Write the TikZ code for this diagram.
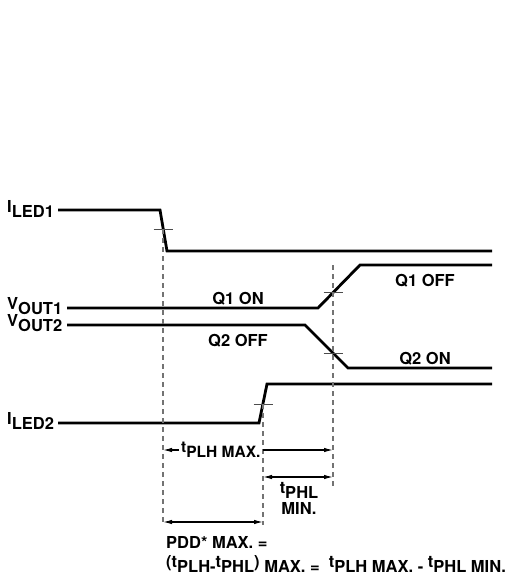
\documentclass[tikz,border=0pt]{standalone}
\usepackage{fontspec}
\setmainfont{TeX Gyre Heros}
\usetikzlibrary{arrows.meta}

\newcommand{\sig}[2]{#1\raisebox{-5pt}{#2}}

\tikzset{
  wave/.style={line width=2.8pt},
  guide/.style={black!55, line width=1.1pt, dash pattern=on 5pt off 4pt},
  marker/.style={black!70, line width=0.9pt},
  dim/.style={line width=1.2pt, -{Latex[length=9pt,width=4.5pt]}},
  dimboth/.style={line width=1.2pt, {Latex[length=9pt,width=4.5pt]}-{Latex[length=9pt,width=4.5pt]}},
  txt/.style={font=\fontsize{16.5}{19}\selectfont\bfseries, inner sep=0pt},
}

\begin{document}
\begin{tikzpicture}[x=1pt,y=-1pt]
    \useasboundingbox (0,0) rectangle (512,587);

    % signal names
    \node[txt,anchor=base west] (iled1) at (7,212) {\sig{I}{LED1}};
    \node[txt,anchor=base west] (vout1) at (7,309) {\sig{V}{OUT1}};
    \node[txt,anchor=base west] (vout2) at (7,326) {\sig{V}{OUT2}};
    \node[txt,anchor=base west] (iled2) at (7,424) {\sig{I}{LED2}};

    % waveforms
    \draw[wave] (58,210) -- (160,210) -- (167,251) -- (492,251);
    \draw[wave] (67,308) -- (318,308) -- (360,265) -- (492,265);
    \draw[wave] (67,325) -- (305,325) -- (348,368) -- (492,368);
    \draw[wave] (58,423) -- (259,423) -- (267,384) -- (492,384);

    \node[txt,anchor=base] (q1on)  at (238,304) {Q1 ON};
    \node[txt,anchor=base] (q2off) at (238,346) {Q2 OFF};
    \node[txt,anchor=base] (q1off) at (425,286) {Q1 OFF};
    \node[txt,anchor=base] (q2on)  at (425,364) {Q2 ON};

    % 50% points
    \coordinate (m1) at (163,229);
    \coordinate (m2) at (263,404);
    \coordinate (m3) at (333,292);
    \coordinate (m4) at (333,353);
    \foreach \m in {m1,m2,m3,m4}
        \draw[marker] ([xshift=-9.5pt]\m) -- ([xshift=9.5pt]\m);

    \draw[guide] (m1) -- (163,525);
    \draw[guide] (m2) -- (263,525);
    \draw[guide] (333,265) -- (333,486);

    % delays
    \node[txt,anchor=west,font=\fontsize{15.5}{18}\selectfont\bfseries] (tplh) at (181,450) {\sig{t}{PLH MAX.}};
    \draw[dim] ([xshift=-2pt]tplh.west) -- (m1 |- tplh.west);
    \draw[dim] (m2 |- tplh.west) -- (m3 |- tplh.west);
    \draw[dimboth] (263,477) -- (333,477);
    \node[txt,align=center,anchor=north] (tphl) at (299,482) {\sig{t}{PHL}\\[2pt]MIN.};
    \draw[dimboth] (163,522) -- (263,522);

    \node[txt,align=left,anchor=north west] (pdd) at (166,536)
        {PDD* MAX. =\\
         \sig{(t}{PLH-}\sig{t}{PHL}\sig{)}{ MAX. =}\ \ \sig{t}{PLH MAX. -}\ \sig{t}{PHL MIN.}};
\end{tikzpicture}
\end{document}
